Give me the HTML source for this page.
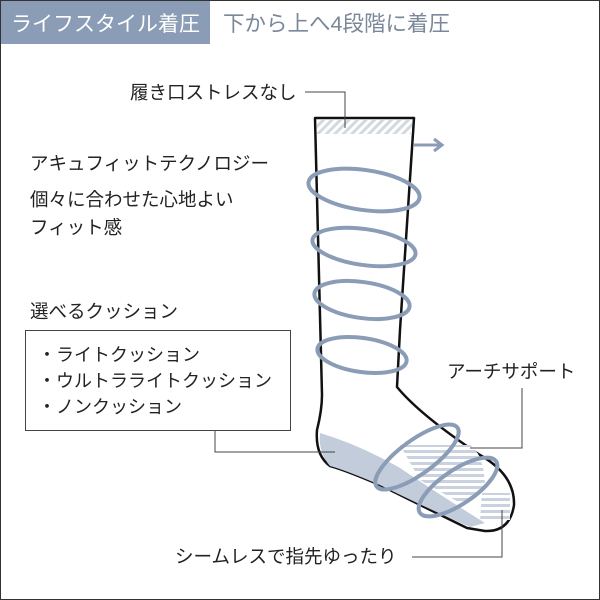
<!DOCTYPE html>
<html><head><meta charset="utf-8"><style>
body{margin:0;background:#fff}
svg{display:block}
text{font-family:"Liberation Sans","Noto Sans CJK JP",sans-serif}
</style></head><body>
<svg width="600" height="600" viewBox="0 0 600 600">
<defs>
<pattern id="h" width="6" height="6" patternUnits="userSpaceOnUse" patternTransform="rotate(45)">
<rect width="6" height="6" fill="#fff"/><rect width="3" height="6" fill="#d4d9df"/></pattern>
<pattern id="s" width="6" height="6" patternUnits="userSpaceOnUse">
<rect width="6" height="6" fill="#fff"/><rect width="6" height="3" fill="#c9d2de"/></pattern>
</defs>
<rect x="0.5" y="0.5" width="599" height="599" fill="#fff" stroke="#333"/>
<rect x="1" y="1" width="209" height="43" fill="#8b9db6"/>
<text x="11" y="31" font-size="21" fill="#fff">ライフスタイル着圧</text>
<text x="223" y="31" font-size="21.5" fill="#7a8899">下から上へ4段階に着圧</text>

<path d="M315,118 L414,118 L400,330 L397,387 Q420,415 480,455 Q515,475 514,505 Q510,532 485,531 L467,528 Q420,505 380,485 Q345,470 330,466 Q315,455 317,430 Q322,410 322,395 Z" fill="#fff" stroke="#111" stroke-width="2.5" stroke-linejoin="round"/>
<rect x="317" y="120" width="95" height="14" fill="url(#h)"/>
<path d="M320,433 Q360,445 400,468 Q440,495 485,523 L470,527 Q420,505 380,485 Q345,470 330,466 Q318,452 320,433 Z" fill="#c2ccda"/>
<path d="M400,445 L470,445 Q485,455 485,490 L460,503 L420,480 Z" fill="url(#s)"/>
<path d="M482,493 L510,493 L510,520 L480,520 Z" fill="url(#s)"/>
<line x1="414" y1="145" x2="440" y2="145" stroke="#8b9db6" stroke-width="3"/>
<path d="M434,139 L442,145 L434,151" fill="none" stroke="#8b9db6" stroke-width="3"/>
<g fill="none" stroke="#8b9db6" stroke-width="4">
<ellipse cx="364" cy="190" rx="56" ry="20" transform="rotate(8 364 190)"/>
<ellipse cx="364" cy="247" rx="52" ry="18" transform="rotate(8 364 247)"/>
<ellipse cx="362" cy="300" rx="48" ry="18" transform="rotate(8 362 300)"/>
<ellipse cx="362" cy="355" rx="45" ry="17" transform="rotate(8 362 355)"/>
<ellipse cx="417" cy="457" rx="50" ry="17" transform="rotate(-36 417 457)"/>
<ellipse cx="458" cy="487" rx="46" ry="17" transform="rotate(-34 458 487)"/>
</g>

<g fill="none" stroke="#444" stroke-width="1">
<polyline points="305,92 345,92 345,128"/>
<rect x="25.5" y="330.5" width="265" height="100"/>
<polyline points="215,430 215,452 335,452"/>
<polyline points="470,448 522,448 522,388"/>
<polyline points="412,557 502,557 502,510"/>
</g>
<g font-size="18.5" fill="#222">
<text x="130" y="99">履き口ストレスなし</text>
<text x="30" y="170">アキュフィットテクノロジー</text>
<text x="30" y="206">個々に合わせた心地よい</text>
<text x="30" y="234">フィット感</text>
<text x="30" y="318">選べるクッション</text>
<text x="447" y="378">アーチサポート</text>
<text x="175" y="563">シームレスで指先ゆったり</text>
</g>
<g font-size="18" fill="#222">
<text x="38" y="361">・ライトクッション</text>
<text x="38" y="387">・ウルトラライトクッション</text>
<text x="38" y="413">・ノンクッション</text>
</g>
</svg>
</body></html>
